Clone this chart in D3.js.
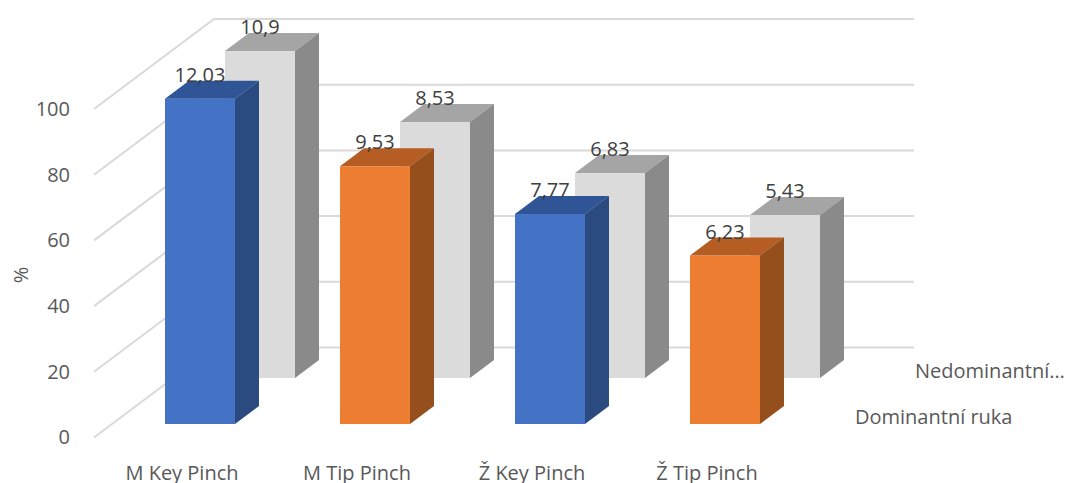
<!DOCTYPE html>
<html>
<head>
<meta charset="utf-8">
<script src="https://cdn.jsdelivr.net/npm/d3@7"></script>
<style>
  html, body { margin: 0; padding: 0; background: #fff; }
  svg { display: block; }
  text { font-family: "Open Sans", sans-serif; }
</style>
</head>
<body>
<svg id="chart" width="1091" height="483"></svg>
<script>
// Pinch strength by group, dominant and non-dominant hand
const categories = ["M Key Pinch", "M Tip Pinch", "Ž Key Pinch", "Ž Tip Pinch"];
const dominant = [12.03, 9.53, 7.77, 6.23];
const nonDominant = [10.9, 8.53, 6.83, 5.43];
const percentTicks = [0, 20, 40, 60, 80, 100];
const seriesNames = ["Dominantní ruka", "Nedominantní…"];

// Each series fills the percent axis relative to its own reference level
const dominantTop = 12.15;
const nonDominantTop = 10.95;

const svg = d3.select("#chart");

// Oblique projection: one depth step moves a bar right and up
const barDepth = { dx: 24, dy: -18 };
const rowShift = { dx: 60, dy: -46 };
const wallShift = { dx: 120, dy: -90 };
const frontBase = 424;

const x = d3.scaleBand().domain(categories).range([112.5, 812.5])
  .paddingInner(0.6).paddingOuter(0.3);
const y = d3.scaleLinear().domain([0, 100]).range([437.5, 109]);
const plotHeight = y(0) - y(100);

const dominantHeight = d3.scaleLinear().domain([0, dominantTop]).range([0, plotHeight]);
const nonDominantHeight = d3.scaleLinear().domain([0, nonDominantTop]).range([0, plotHeight]);

// Floor-to-wall diagonals and horizontal wall lines
const grid = svg.append("g").attr("fill", "none").attr("stroke", "#d9d9d9").attr("stroke-width", 2);
const axisX = 94;
const wallX = axisX + wallShift.dx;
const wallEnd = 914;
percentTicks.forEach(t => {
  const p = d3.path();
  p.moveTo(axisX, y(t));
  p.lineTo(wallX, y(t) + wallShift.dy);
  if (t > 0) p.lineTo(wallEnd, y(t) + wallShift.dy);
  else p.lineTo(wallX, y(t) + wallShift.dy);
  grid.append("path").attr("d", p.toString());
});
grid.append("line")
  .attr("x1", wallX).attr("x2", wallEnd)
  .attr("y1", y(0) + wallShift.dy).attr("y2", y(0) + wallShift.dy);

// One extruded bar: front face, top face and right side
function drawBar(g, left, width, base, height, c) {
  const top = base - height;
  const right = left + width;
  const d = barDepth;
  g.append("rect").attr("x", left).attr("y", top)
    .attr("width", width).attr("height", height).attr("fill", c.front);
  g.append("path").attr("fill", c.top)
    .attr("d", d3.line()([[left, top], [left + d.dx, top + d.dy], [right + d.dx, top + d.dy], [right, top]]) + "Z");
  g.append("path").attr("fill", c.side)
    .attr("d", d3.line()([[right, top], [right + d.dx, top + d.dy], [right + d.dx, base + d.dy], [right, base]]) + "Z");
}

const blue = { front: "#4472c4", top: "#2f5597", side: "#2a4a80" };
const orange = { front: "#ed7d31", top: "#b55d22", side: "#954f1c" };
const gray = { front: "#dbdbdb", top: "#a5a5a5", side: "#8a8a8a" };
const dominantColors = [blue, orange, blue, orange];

const decimalComma = v => String(v).replace(".", ",");

// Rear row first so the front row overlaps it
const rear = svg.append("g");
categories.forEach((cat, i) => {
  drawBar(rear, x(cat) + rowShift.dx, x.bandwidth(), frontBase + rowShift.dy,
    nonDominantHeight(nonDominant[i]), gray);
});
const front = svg.append("g");
categories.forEach((cat, i) => {
  drawBar(front, x(cat), x.bandwidth(), frontBase, dominantHeight(dominant[i]), dominantColors[i]);
});

// Value labels sit just above each front face, over the top face
const labels = svg.append("g").attr("fill", "#404040").attr("font-size", 20)
  .attr("text-anchor", "middle");
categories.forEach((cat, i) => {
  labels.append("text")
    .attr("x", x(cat) + rowShift.dx + x.bandwidth() / 2 - 7 + 7)
    .attr("y", frontBase + rowShift.dy - nonDominantHeight(nonDominant[i]) - 17)
    .text(decimalComma(nonDominant[i]));
  labels.append("text")
    .attr("x", x(cat) + x.bandwidth() / 2)
    .attr("y", frontBase - dominantHeight(dominant[i]) - 17)
    .text(decimalComma(dominant[i]));
});

// Percent axis
const yAxis = svg.append("g")
  .attr("transform", "translate(70,0)")
  .call(d3.axisLeft(y).tickValues(percentTicks).tickSize(0).tickPadding(0));
yAxis.select(".domain").remove();
yAxis.selectAll("text")
  .attr("font-size", 20).attr("fill", "#595959")
  .style("font-family", '"Open Sans", sans-serif');

svg.append("text")
  .attr("transform", "translate(28,275) rotate(-90)")
  .attr("text-anchor", "middle")
  .attr("font-size", 20).attr("fill", "#595959")
  .text("%");

// Category labels, centred a little left of each front face
const xLabels = svg.append("g").attr("fill", "#595959").attr("font-size", 20)
  .attr("text-anchor", "middle");
categories.forEach(cat => {
  xLabels.append("text")
    .attr("x", x(cat) + x.bandwidth() / 2 - 18)
    .attr("y", 480)
    .text(cat);
});

// Series names along the depth axis
const depthLabels = svg.append("g").attr("fill", "#595959").attr("font-size", 20);
depthLabels.append("text").attr("x", 855).attr("y", 424).text(seriesNames[0]);
depthLabels.append("text").attr("x", 915).attr("y", 378).text(seriesNames[1]);
</script>
</body>
</html>
